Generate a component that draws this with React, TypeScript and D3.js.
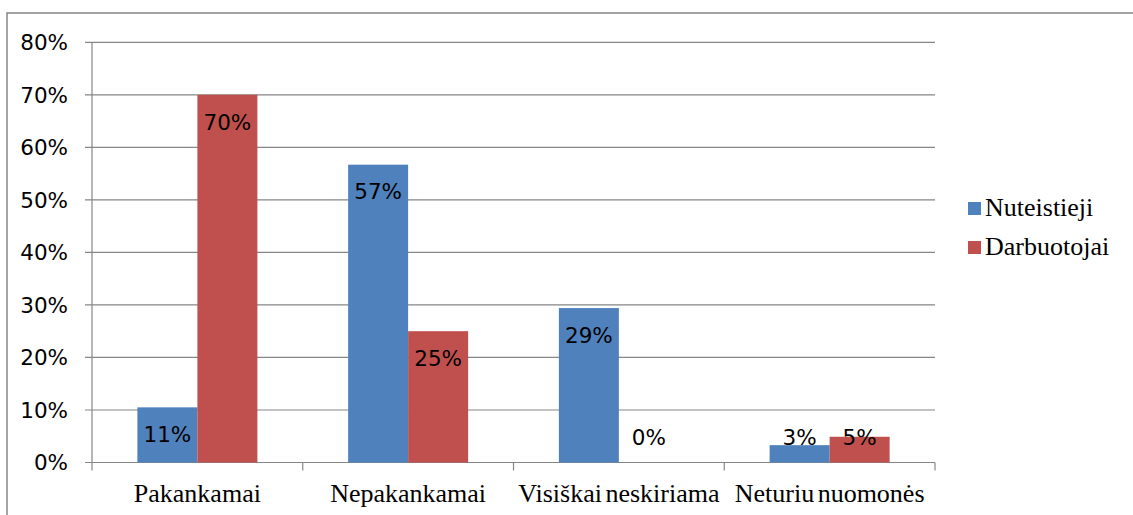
import { useEffect, useRef } from 'react';
import * as d3 from 'd3';

const categories = ['Pakankamai', 'Nepakankamai', 'Visiškai neskiriama', 'Neturiu nuomonės'];
const seriesNames = ['Nuteistieji', 'Darbuotojai'];
const nuteistieji = [10.5, 56.7, 29.4, 3.3];
const darbuotojai = [70, 25, 0, 4.9];
const nuteistiejiLabels = ['11%', '57%', '29%', '3%'];
const darbuotojaiLabels = ['70%', '25%', '0%', '5%'];
const yTicks = [0, 10, 20, 30, 40, 50, 60, 70, 80];

const colors = ['#4F81BD', '#C0504D'];

const sansFont = 'DejaVu Sans';
const serifFont = 'Liberation Serif';

export default function App() {
    const svgRef = useRef<SVGSVGElement>(null);

    useEffect(() => {
        const width = 1133;
        const height = 515;
        const svg = d3.select(svgRef.current);
        svg.selectAll('*').remove();

        const plot = { left: 92, right: 935, top: 42.3, bottom: 462.5 };

        // outer border
        svg.append('rect')
            .attr('x', 7)
            .attr('y', 13)
            .attr('width', width + 20)
            .attr('height', height + 20)
            .attr('fill', 'white')
            .attr('stroke', '#868686')
            .attr('stroke-width', 1.5);

        const x = d3.scaleBand()
            .domain(categories)
            .range([plot.left, plot.right])
            .paddingInner(0)
            .paddingOuter(0);

        const y = d3.scaleLinear()
            .domain([0, 80])
            .range([plot.bottom, plot.top]);

        const barW = 60;

        // gridlines + y ticks
        const g = svg.append('g');
        g.selectAll('.grid')
            .data(yTicks)
            .enter()
            .append('line')
            .attr('x1', plot.left - 7)
            .attr('x2', plot.right)
            .attr('y1', (d) => y(d))
            .attr('y2', (d) => y(d))
            .attr('stroke', '#868686')
            .attr('stroke-width', 1.2);

        g.selectAll('.ytick')
            .data(yTicks)
            .enter()
            .append('text')
            .attr('x', 68)
            .attr('y', (d) => y(d))
            .attr('dy', '0.36em')
            .attr('text-anchor', 'end')
            .attr('font-family', sansFont)
            .attr('font-size', 21.5)
            .attr('fill', '#000')
            .text((d) => `${d}%`);

        // y axis line
        g.append('line')
            .attr('x1', plot.left).attr('x2', plot.left)
            .attr('y1', plot.top).attr('y2', plot.bottom)
            .attr('stroke', '#868686').attr('stroke-width', 1.2);

        // x tick marks at category boundaries
        const bounds = categories.map((c) => x(c) as number).concat([plot.right]);
        g.selectAll('.xtick')
            .data(bounds)
            .enter()
            .append('line')
            .attr('x1', (d) => d).attr('x2', (d) => d)
            .attr('y1', plot.bottom).attr('y2', plot.bottom + 8)
            .attr('stroke', '#868686').attr('stroke-width', 1.2);

        // bars
        const series = [
            { name: seriesNames[0], values: nuteistieji, labels: nuteistiejiLabels, color: colors[0], offset: -barW },
            { name: seriesNames[1], values: darbuotojai, labels: darbuotojaiLabels, color: colors[1], offset: 0 },
        ];

        series.forEach((s) => {
            const cx = (i: number) => (x(categories[i]) as number) + x.bandwidth() / 2 + s.offset;
            svg.append('g')
                .selectAll('rect')
                .data(s.values)
                .enter()
                .append('rect')
                .attr('x', (d, i) => cx(i))
                .attr('width', barW)
                .attr('y', (d) => y(d))
                .attr('height', (d) => plot.bottom - y(d))
                .attr('fill', s.color);

            svg.append('g')
                .selectAll('text')
                .data(s.values)
                .enter()
                .append('text')
                .attr('x', (d, i) => cx(i) + barW / 2)
                .attr('y', (d) => Math.min(y(d) + 27, plot.bottom - 25.5))
                .attr('dy', '0.36em')
                .attr('text-anchor', 'middle')
                .attr('font-family', sansFont)
                .attr('font-size', 21.5)
                .attr('fill', '#000')
                .text((d, i) => s.labels[i]);
        });

        // x axis line
        g.append('line')
            .attr('x1', plot.left).attr('x2', plot.right)
            .attr('y1', plot.bottom).attr('y2', plot.bottom)
            .attr('stroke', '#868686').attr('stroke-width', 1.2);

        // category labels
        svg.append('g')
            .selectAll('text')
            .data(categories)
            .enter()
            .append('text')
            .attr('x', (d) => (x(d) as number) + x.bandwidth() / 2)
            .attr('y', 502)
            .attr('text-anchor', 'middle')
            .attr('font-family', serifFont)
            .attr('font-size', 26)
            .attr('word-spacing', -3)
            .attr('fill', '#000')
            .text((d) => d);

        // legend
        const legend = svg.append('g');
        series.forEach((s, i) => {
            legend.append('rect')
                .attr('x', 968)
                .attr('y', 202 + i * 39)
                .attr('width', 13)
                .attr('height', 13)
                .attr('fill', s.color);
            legend.append('text')
                .attr('x', 985)
                .attr('y', 216 + i * 39)
                .attr('font-family', serifFont)
                .attr('font-size', 26)
                .attr('fill', '#000')
                .text(s.name);
        });
    }, []);

    return (
        <svg
            ref={svgRef}
            width={1133}
            height={515}
            style={{ position: 'absolute', left: 0, top: 0, display: 'block' }}
        ></svg>
    );
}
